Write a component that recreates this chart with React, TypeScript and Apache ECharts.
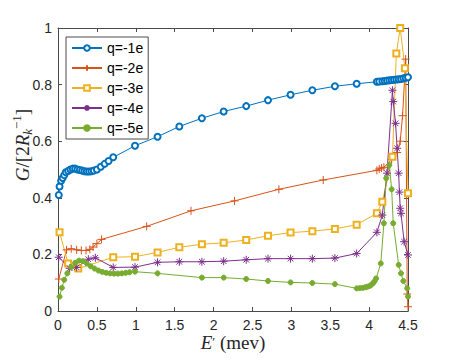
import React, { useEffect, useRef } from "react";
import * as echarts from "echarts";

const xTicks = [0, 0.5, 1, 1.5, 2, 2.5, 3, 3.5, 4, 4.5];
const yTicks = [0, 0.2, 0.4, 0.6, 0.8, 1];
const seriesNames = ["q=-1e", "q=-2e", "q=-3e", "q=-4e", "q=-5e"];

const q1X = [0.01,0.02,0.04,0.06,0.08,0.10,0.13,0.16,0.19,0.22,0.25,0.28,0.31,0.34,0.37,0.40,0.43,0.46,0.50,0.55,0.60,0.65,0.71,0.99,1.28,1.56,1.85,2.13,2.42,2.70,2.99,3.27,3.56,3.84,4.10,4.13,4.17,4.20,4.23,4.26,4.29,4.32,4.35,4.38,4.41,4.44,4.47,4.50];
const q1Y = [0.41,0.44,0.46,0.47,0.48,0.49,0.495,0.50,0.503,0.503,0.50,0.498,0.496,0.494,0.493,0.493,0.494,0.496,0.50,0.51,0.52,0.53,0.543,0.584,0.616,0.652,0.681,0.705,0.724,0.745,0.764,0.780,0.794,0.803,0.810,0.811,0.812,0.813,0.814,0.815,0.816,0.817,0.818,0.819,0.820,0.822,0.824,0.826];

const q2X = [0.01,0.11,0.17,0.24,0.30,0.36,0.41,0.45,0.50,0.56,1.14,1.71,2.27,2.84,3.41,4.10,4.13,4.16,4.19,4.29,4.36,4.40,4.43,4.47,4.49,4.50];
const q2Y = [0.113,0.216,0.22,0.216,0.214,0.214,0.218,0.226,0.238,0.253,0.299,0.354,0.389,0.43,0.463,0.497,0.502,0.505,0.508,0.535,0.56,0.60,0.69,0.89,0.06,0.015];

const q3X = [0.02,0.13,0.26,0.71,0.99,1.28,1.56,1.85,2.13,2.42,2.70,2.99,3.27,3.56,3.84,4.10,4.17,4.30,4.35,4.40,4.46,4.50];
const q3Y = [0.278,0.168,0.150,0.19,0.192,0.207,0.225,0.236,0.241,0.251,0.266,0.277,0.282,0.29,0.305,0.345,0.386,0.545,0.91,1.0,0.858,0.416];

const q4X = [0.01,0.15,0.24,0.39,0.48,0.71,0.99,1.28,1.56,1.85,2.13,2.42,2.70,2.99,3.27,3.56,3.84,4.10,4.17,4.23,4.30,4.31,4.34,4.36,4.38,4.39,4.40,4.41,4.45,4.50];
const q4Y = [0.19,0.151,0.154,0.183,0.188,0.154,0.155,0.172,0.174,0.174,0.176,0.181,0.185,0.185,0.185,0.187,0.203,0.278,0.339,0.487,0.78,0.74,0.663,0.575,0.487,0.42,0.363,0.345,0.245,0.198];

const q5X = [0.02,0.05,0.08,0.12,0.17,0.22,0.27,0.32,0.37,0.42,0.47,0.52,0.57,0.62,0.67,0.72,0.77,0.82,0.87,0.92,0.99,1.28,1.85,2.13,2.42,2.70,2.99,3.27,3.56,3.84,3.88,3.92,3.95,3.98,4.01,4.03,4.05,4.07,4.09,4.15,4.19,4.22,4.26,4.29,4.31,4.38,4.41,4.44,4.49,4.50];
const q5Y = [0.051,0.082,0.11,0.133,0.155,0.170,0.178,0.176,0.168,0.158,0.150,0.143,0.138,0.135,0.133,0.132,0.132,0.133,0.135,0.137,0.139,0.133,0.118,0.118,0.113,0.106,0.101,0.099,0.095,0.080,0.081,0.082,0.084,0.086,0.089,0.093,0.098,0.105,0.115,0.168,0.31,0.469,0.516,0.43,0.31,0.163,0.133,0.106,0.08,0.051];

const COLORS = ["#0072BD", "#D95319", "#EDB120", "#7E2F8E", "#77AC30"];
const AX = "#4a4a4a";
const SERIF = "Liberation Serif";

export default function App() {
  const ref = useRef<HTMLDivElement>(null);
  useEffect(() => {
    if (!ref.current) return;
    const chart = echarts.init(ref.current, undefined, { renderer: "svg" });
    const pairs = (xs: number[], ys: number[]) => xs.map((x, i) => [x, ys[i]]);
    const xsAll = [q1X, q2X, q3X, q4X, q5X];
    const ysAll = [q1Y, q2Y, q3Y, q4Y, q5Y];
    const symbols = [
      "emptyCircle",
      "path://M5,0L5,10M0,5L10,5",
      "emptyRect",
      "path://M5,0L5,10M0,5L10,5M1.5,1.5L8.5,8.5M1.5,8.5L8.5,1.5",
      "circle",
    ];
    const sizes = [6, 8, 6, 8, 5];
    const series = seriesNames.map((name, k) => ({
      name,
      type: "line",
      data: pairs(xsAll[k], ysAll[k]),
      symbol: symbols[k],
      symbolSize: sizes[k],
      showAllSymbol: true,
      lineStyle: { color: COLORS[k], width: 1 },
      itemStyle: { color: COLORS[k], borderColor: COLORS[k], borderWidth: 1 },
      emphasis: { disabled: true },
    }));
    const tickFont = { fontFamily: "Liberation Sans, Arial, sans-serif", fontSize: 14, color: "#262626" };
    const baseX = {
      type: "value",
      min: 0,
      max: 4.5,
      interval: 0.5,
      axisLine: { show: true, onZero: false, lineStyle: { color: AX, width: 1 } },
      axisTick: { show: true, inside: true, length: 4, lineStyle: { color: AX } },
      splitLine: { show: false },
    };
    const baseY = {
      type: "value",
      min: 0,
      max: 1,
      interval: 0.2,
      axisLine: { show: true, onZero: false, lineStyle: { color: AX, width: 1 } },
      axisTick: { show: true, inside: true, length: 4, lineStyle: { color: AX } },
      splitLine: { show: false },
    };
    chart.setOption({
      animation: false,
      backgroundColor: "#ffffff",
      grid: { left: 58, top: 28, right: 44, bottom: 50, containLabel: false },
      xAxis: [
        { ...baseX, position: "bottom", axisLabel: { ...tickFont, margin: 6, lineHeight: 15, formatter: (v: number) => String(v) } },
        { ...baseX, position: "top", axisLabel: { show: false } },
      ],
      yAxis: [
        { ...baseY, position: "left", axisLabel: { ...tickFont, margin: 6, formatter: (v: number) => String(Math.round(v * 10) / 10) } },
        { ...baseY, position: "right", axisLabel: { show: false } },
      ],
      legend: {
        show: true,
        orient: "vertical",
        left: 66,
        top: 37,
        itemWidth: 30,
        itemHeight: 7,
        itemGap: 6,
        padding: [4, 5, 4, 5],
        borderColor: AX,
        borderWidth: 1,
        backgroundColor: "#ffffff",
        textStyle: { fontFamily: "Liberation Sans, Arial, sans-serif", fontSize: 14, lineHeight: 13, color: "#000" },
        data: seriesNames,
      },
      graphic: [
        {
          type: "text",
          x: 22,
          y: 145,
          rotation: Math.PI / 2,
          style: {
            text: "{i|G}{n|/[2}{i|R}{sub|k}{sup|−1}{n|]}",
            align: "center",
            verticalAlign: "middle",
            fill: "#262626",
            fontFamily: SERIF,
            rich: {
              i: { fontFamily: SERIF, fontStyle: "italic", fontSize: 19, lineHeight: 24, fill: "#262626" },
              n: { fontFamily: SERIF, fontSize: 19, lineHeight: 24, fill: "#262626" },
              sub: { fontFamily: SERIF, fontStyle: "italic", fontSize: 13, verticalAlign: "bottom", lineHeight: 24, fill: "#262626" },
              sup: { fontFamily: SERIF, fontSize: 13, verticalAlign: "top", lineHeight: 24, fill: "#262626" },
            },
          },
        },
        {
          type: "text",
          x: 233,
          y: 342,
          style: {
            text: "{i|E}{p|′}{n| (mev)}",
            align: "center",
            verticalAlign: "middle",
            fill: "#262626",
            fontFamily: SERIF,
            fontSize: 19,
            rich: {
              i: { fontFamily: SERIF, fontStyle: "italic", fontSize: 19, lineHeight: 14, fill: "#262626" },
              p: { fontFamily: SERIF, fontSize: 13, verticalAlign: "top", lineHeight: 14, fill: "#262626" },
              n: { fontFamily: SERIF, fontSize: 19, lineHeight: 14, fill: "#262626" },
            },
          },
        },
      ],
      series,
    });
    return () => chart.dispose();
  }, []);
  return <div ref={ref} style={{ position: "fixed", left: 0, top: 0, width: 452, height: 361 }} />;
}
